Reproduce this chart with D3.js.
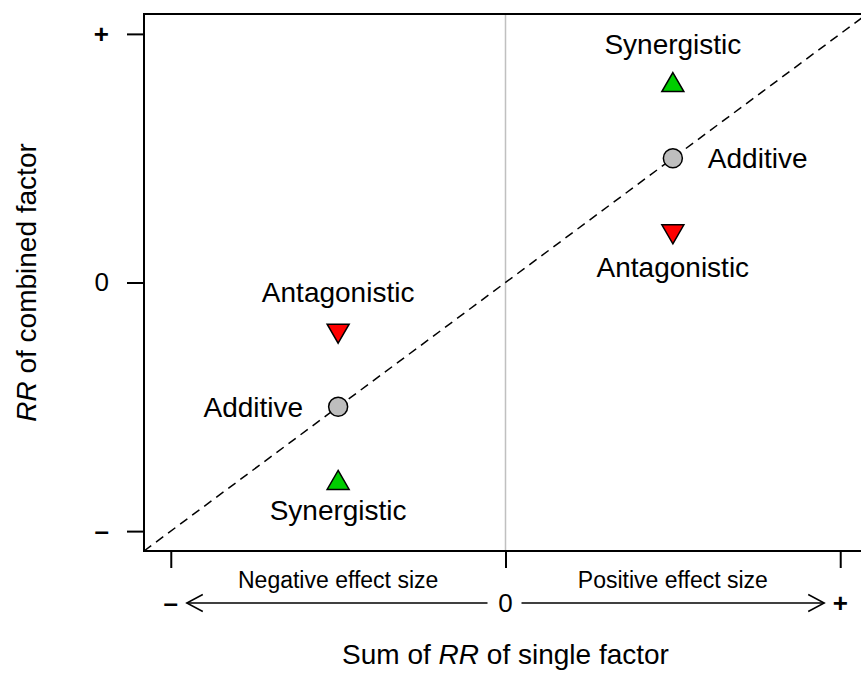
<!DOCTYPE html>
<html>
<head>
<meta charset="utf-8">
<script src="https://cdn.jsdelivr.net/npm/d3@7"></script>
<style>
  html, body { margin: 0; padding: 0; background: #fff; }
  svg { display: block; font-family: "Liberation Sans", Arial, sans-serif; }
</style>
</head>
<body>
<svg id="chart" width="861" height="681"></svg>
<script>
// ---- data ----
const sideSums     = [-0.5, -0.5, -0.5, 0.5, 0.5, 0.5];   // Sum of RR of single factor
const combinedRR   = [-0.5, -0.8, -0.2, 0.5, 0.8, 0.2];   // RR of combined factor
const interaction  = ["Additive", "Synergistic", "Antagonistic", "Additive", "Synergistic", "Antagonistic"];
const tickValues   = [-1, 0, 1];
const tickLabels   = ["\u2013", "0", "+"];
const sideLabels   = ["Negative effect size", "Positive effect size"];
const sideCenters  = [-0.5, 0.5];

const svg = d3.select("#chart");
const x = d3.scaleLinear().domain([-1.08, 1.08]).range([144, 867]);
const y = d3.scaleLinear().domain([-1.08, 1.08]).range([551, 14]);

// vertical grey zero line
svg.append("line")
  .attr("x1", x(0)).attr("x2", x(0))
  .attr("y1", y(1.08)).attr("y2", y(-1.08))
  .attr("stroke", "#c0c0c0").attr("stroke-width", 1.5);

// dashed 1:1 line
svg.append("line")
  .attr("x1", x(-1.08)).attr("y1", y(-1.08))
  .attr("x2", x(1.08)).attr("y2", y(1.08))
  .attr("stroke", "#000").attr("stroke-width", 1.5)
  .attr("stroke-dasharray", "9,6");

// box
svg.append("rect")
  .attr("x", x(-1.08)).attr("y", y(1.08))
  .attr("width", x(1.08) - x(-1.08)).attr("height", y(-1.08) - y(1.08))
  .attr("fill", "none").attr("stroke", "#000").attr("stroke-width", 2);

// y axis
const yAxis = svg.append("g")
  .attr("transform", `translate(${x(-1.08)},0)`)
  .call(d3.axisLeft(y).tickValues(tickValues)
    .tickFormat((d, i) => tickLabels[i]).tickSize(17).tickPadding(18));
yAxis.select(".domain").remove();
yAxis.selectAll(".tick line").attr("stroke-width", 2);
yAxis.selectAll(".tick text").attr("font-size", 26).attr("fill", "#000")
  .attr("font-family", "Liberation Sans, Arial, sans-serif")
  .style("font-weight", (d) => d === 0 ? "normal" : "bold");

// x axis (ticks only)
const xAxis = svg.append("g")
  .attr("transform", `translate(0,${y(-1.08)})`)
  .call(d3.axisBottom(x).tickValues(tickValues).tickFormat("").tickSize(17));
xAxis.select(".domain").remove();
xAxis.selectAll(".tick line").attr("stroke-width", 2);

// arrow row
const arrowY = 603;
const ar = svg.append("g");
ar.selectAll("text.tl").data(tickValues).join("text")
  .attr("class", "tl")
  .attr("x", d => x(d)).attr("y", arrowY)
  .attr("dy", "0.36em")
  .attr("text-anchor", "middle")
  .attr("font-size", 26)
  .style("font-weight", d => d === 0 ? "normal" : "bold")
  .text((d, i) => tickLabels[i]);
// left arrow
ar.append("line").attr("x1", x(-1) + 16).attr("x2", x(0) - 18)
  .attr("y1", arrowY).attr("y2", arrowY).attr("stroke", "#000").attr("stroke-width", 1.5);
ar.append("path")
  .attr("d", `M${x(-1) + 32},${arrowY - 8.5} L${x(-1) + 16},${arrowY} L${x(-1) + 32},${arrowY + 8.5}`)
  .attr("fill", "none").attr("stroke", "#000").attr("stroke-width", 1.5);
// right arrow
ar.append("line").attr("x1", x(0) + 16).attr("x2", x(1) - 16)
  .attr("y1", arrowY).attr("y2", arrowY).attr("stroke", "#000").attr("stroke-width", 1.5);
ar.append("path")
  .attr("d", `M${x(1) - 32},${arrowY - 8.5} L${x(1) - 16},${arrowY} L${x(1) - 32},${arrowY + 8.5}`)
  .attr("fill", "none").attr("stroke", "#000").attr("stroke-width", 1.5);
// side labels
svg.selectAll("text.side").data(sideLabels).join("text")
  .attr("class", "side")
  .attr("x", (d, i) => x(sideCenters[i])).attr("y", 588)
  .attr("text-anchor", "middle").attr("font-size", 23)
  .text(d => d);

// axis titles
const xt = svg.append("text").attr("x", x(0)).attr("y", 664)
  .attr("text-anchor", "middle").attr("font-size", 28);
xt.append("tspan").text("Sum of ");
xt.append("tspan").attr("font-style", "italic").text("RR");
xt.append("tspan").text(" of single factor");

const yt = svg.append("text")
  .attr("transform", `translate(36,${y(0)}) rotate(-90)`)
  .attr("text-anchor", "middle").attr("font-size", 28);
yt.append("tspan").attr("font-style", "italic").text("RR");
yt.append("tspan").text(" of combined factor");

// points
const colors = { Additive: "#bebebe", Synergistic: "#00cd00", Antagonistic: "#ff0000" };
const pts = svg.append("g");
sideSums.forEach((sx, i) => {
  const t = interaction[i];
  const cx = x(sx), cy = y(combinedRR[i]);
  if (t === "Additive") {
    pts.append("circle").attr("cx", cx).attr("cy", cy).attr("r", 9.5)
      .attr("fill", colors[t]).attr("stroke", "#000").attr("stroke-width", 1.5);
  } else {
    const up = t === "Synergistic";
    const s = up
      ? `M${cx},${cy - 11} L${cx + 11},${cy + 8} L${cx - 11},${cy + 8} Z`
      : `M${cx},${cy + 11} L${cx + 11},${cy - 8} L${cx - 11},${cy - 8} Z`;
    pts.append("path").attr("d", s)
      .attr("fill", colors[t]).attr("stroke", "#000").attr("stroke-width", 1.5);
  }
  // labels
  let lx = cx, ly = cy, anchor = "middle";
  if (t === "Additive") {
    anchor = sx < 0 ? "end" : "start";
    lx = cx + (sx < 0 ? -35 : 35);
    ly = cy + 10;
  } else {
    const above = combinedRR[i] > sx;  // point above the 1:1 line?
    ly = above ? cy - 30 : cy + (sx > 0 ? 44 : 39);
  }
  svg.append("text").attr("x", lx).attr("y", ly)
    .attr("text-anchor", anchor).attr("font-size", 28).text(t);
});
</script>
</body>
</html>
